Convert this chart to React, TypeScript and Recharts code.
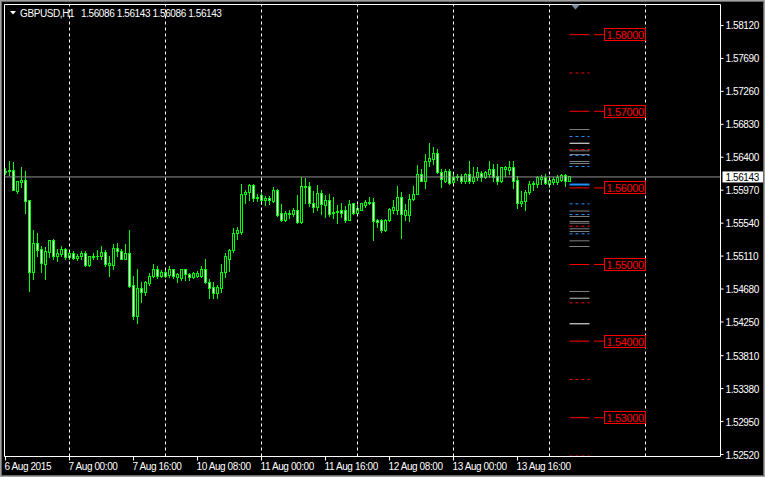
import React from 'react';
import { ComposedChart, Bar, XAxis, YAxis, ReferenceLine } from 'recharts';

// GBPUSD H1, 6 Aug 08:00 .. 14 Aug 04:00 (2015)
const OPEN = [
  1.5620, 1.5622, 1.5623, 1.5595, 1.5607, 1.5610, 1.5583, 1.5490, 1.5527, 1.5519,
  1.5500, 1.5516, 1.5531, 1.5510, 1.5513, 1.5520, 1.5509, 1.5514, 1.5508, 1.5510,
  1.5515, 1.5499, 1.5509, 1.5511, 1.5511, 1.5516, 1.5499, 1.5499, 1.5521, 1.5517,
  1.5507, 1.5514, 1.5472, 1.5432, 1.5469, 1.5463, 1.5475, 1.5484, 1.5493, 1.5484,
  1.5489, 1.5486, 1.5493, 1.5483, 1.5482, 1.5493, 1.5487, 1.5483, 1.5485, 1.5485,
  1.5494, 1.5476, 1.5470, 1.5462, 1.5469, 1.5490, 1.5507, 1.5518, 1.5541, 1.5542,
  1.5592, 1.5594, 1.5603, 1.5586, 1.5590, 1.5583, 1.5586, 1.5582, 1.5597, 1.5566,
  1.5558, 1.5566, 1.5565, 1.5571, 1.5555, 1.5602, 1.5602, 1.5580, 1.5574, 1.5593,
  1.5577, 1.5583, 1.5566, 1.5568, 1.5570, 1.5570, 1.5558, 1.5579, 1.5567, 1.5571,
  1.5577, 1.5579, 1.5581, 1.5557, 1.5557, 1.5544, 1.5557, 1.5571, 1.5571, 1.5588,
  1.5564, 1.5564, 1.5585, 1.5592, 1.5618, 1.5609, 1.5635, 1.5637, 1.5645, 1.5620,
  1.5609, 1.5622, 1.5607, 1.5613, 1.5615, 1.5609, 1.5617, 1.5608, 1.5613, 1.5619,
  1.5613, 1.5617, 1.5624, 1.5615, 1.5608, 1.5624, 1.5623, 1.5627, 1.5610, 1.5579,
  1.5582, 1.5594, 1.5604, 1.5604, 1.5611, 1.5613, 1.5605, 1.5607, 1.5607, 1.5610,
  1.5616, 1.56086,
];
const HIGH = [
  1.5625, 1.5635, 1.5633, 1.5608, 1.5626, 1.5622, 1.5584, 1.5544, 1.5540, 1.5523,
  1.5522, 1.5531, 1.5532, 1.5519, 1.5523, 1.5521, 1.5517, 1.5517, 1.5513, 1.5517,
  1.5517, 1.5511, 1.5514, 1.5518, 1.5523, 1.5518, 1.5510, 1.5526, 1.5528, 1.5520,
  1.5526, 1.5544, 1.5484, 1.5493, 1.5476, 1.5478, 1.5488, 1.5500, 1.5497, 1.5492,
  1.5492, 1.5497, 1.5494, 1.5488, 1.5494, 1.5494, 1.5488, 1.5490, 1.5491, 1.5497,
  1.5506, 1.5480, 1.5477, 1.5473, 1.5500, 1.5514, 1.5520, 1.5547, 1.5548, 1.5604,
  1.5596, 1.5604, 1.5604, 1.5591, 1.5593, 1.5589, 1.5589, 1.5600, 1.5598, 1.5578,
  1.5569, 1.5571, 1.5573, 1.5590, 1.5613, 1.5612, 1.5607, 1.5595, 1.5603, 1.5596,
  1.5590, 1.5592, 1.5587, 1.5577, 1.5580, 1.5576, 1.5584, 1.5580, 1.5577, 1.5580,
  1.5584, 1.5587, 1.5586, 1.5559, 1.5559, 1.5559, 1.5573, 1.5583, 1.5602, 1.5594,
  1.5578, 1.5591, 1.5602, 1.5629, 1.5624, 1.5643, 1.5658, 1.5653, 1.5650, 1.5624,
  1.5624, 1.5624, 1.5619, 1.5617, 1.5618, 1.5619, 1.5634, 1.5626, 1.5626, 1.5621,
  1.5622, 1.5634, 1.5631, 1.5630, 1.5627, 1.5628, 1.5634, 1.5634, 1.5615, 1.5595,
  1.5597, 1.5608, 1.5608, 1.5615, 1.5616, 1.5617, 1.5615, 1.5614, 1.5616, 1.5618,
  1.5618, 1.56143,
];
const LOW = [
  1.5617, 1.5616, 1.5596, 1.5593, 1.5600, 1.5567, 1.5465, 1.5480, 1.5511, 1.5490,
  1.5481, 1.5509, 1.5506, 1.5504, 1.5510, 1.5507, 1.5506, 1.5506, 1.5505, 1.5506,
  1.5497, 1.5497, 1.5506, 1.5506, 1.5506, 1.5497, 1.5485, 1.5493, 1.5511, 1.5506,
  1.5506, 1.5470, 1.5428, 1.5423, 1.5450, 1.5460, 1.5472, 1.5483, 1.5482, 1.5483,
  1.5483, 1.5483, 1.5482, 1.5476, 1.5479, 1.5479, 1.5479, 1.5482, 1.5483, 1.5483,
  1.5475, 1.5456, 1.5456, 1.5455, 1.5463, 1.5483, 1.5491, 1.5516, 1.5533, 1.5539,
  1.5579, 1.5584, 1.5582, 1.5582, 1.5578, 1.5577, 1.5578, 1.5581, 1.5563, 1.5556,
  1.5556, 1.5560, 1.5563, 1.5553, 1.5554, 1.5580, 1.5576, 1.5568, 1.5571, 1.5565,
  1.5561, 1.5563, 1.5560, 1.5553, 1.5561, 1.5555, 1.5557, 1.5565, 1.5565, 1.5570,
  1.5574, 1.5578, 1.5531, 1.5548, 1.5542, 1.5543, 1.5556, 1.5566, 1.5565, 1.5534,
  1.5558, 1.5556, 1.5584, 1.5591, 1.5608, 1.5599, 1.5628, 1.5631, 1.5619, 1.5600,
  1.5607, 1.5605, 1.5604, 1.5610, 1.5606, 1.5606, 1.5606, 1.5606, 1.5610, 1.5609,
  1.5612, 1.5613, 1.5608, 1.5604, 1.5607, 1.5615, 1.5617, 1.5599, 1.5573, 1.5576,
  1.5570, 1.5591, 1.5597, 1.5600, 1.5604, 1.5604, 1.5600, 1.5605, 1.5604, 1.5609,
  1.5602, 1.56086,
];
const CLOSE = [
  1.5622, 1.5623, 1.5597, 1.5608, 1.5610, 1.5582, 1.5490, 1.5527, 1.5518, 1.5501,
  1.5517, 1.5531, 1.5510, 1.5514, 1.5519, 1.5509, 1.5514, 1.5508, 1.5511, 1.5515,
  1.5499, 1.5510, 1.5511, 1.5510, 1.5516, 1.5500, 1.5501, 1.5521, 1.5517, 1.5507,
  1.5515, 1.5471, 1.5432, 1.5469, 1.5463, 1.5476, 1.5485, 1.5493, 1.5484, 1.5489,
  1.5484, 1.5493, 1.5484, 1.5487, 1.5493, 1.5487, 1.5483, 1.5488, 1.5488, 1.5494,
  1.5476, 1.5469, 1.5462, 1.5470, 1.5490, 1.5510, 1.5518, 1.5541, 1.5544, 1.5592,
  1.5594, 1.5603, 1.5586, 1.5588, 1.5583, 1.5586, 1.5584, 1.5597, 1.5564, 1.5558,
  1.5566, 1.5565, 1.5571, 1.5555, 1.5602, 1.5601, 1.5579, 1.5574, 1.5593, 1.5578,
  1.5583, 1.5565, 1.5568, 1.5569, 1.5567, 1.5557, 1.5578, 1.5566, 1.5573, 1.5579,
  1.5581, 1.5581, 1.5556, 1.5555, 1.5544, 1.5558, 1.5572, 1.5574, 1.5588, 1.5565,
  1.5570, 1.5585, 1.5592, 1.5618, 1.5609, 1.5635, 1.5639, 1.5645, 1.5620, 1.5611,
  1.5622, 1.5606, 1.5613, 1.5615, 1.5608, 1.5617, 1.5608, 1.5614, 1.5620, 1.5613,
  1.5620, 1.5624, 1.5613, 1.5608, 1.5626, 1.5626, 1.5627, 1.5609, 1.5580, 1.5582,
  1.5594, 1.5605, 1.5606, 1.5613, 1.5613, 1.5606, 1.5610, 1.5611, 1.5613, 1.5616,
  1.5608, 1.56143,
];

const TIME_TICKS = [0, 16, 32, 48, 64, 80, 96, 112, 128];
const TIME_LABELS = [
  '6 Aug 2015', '7 Aug 00:00', '7 Aug 16:00', '10 Aug 08:00', '11 Aug 00:00',
  '11 Aug 16:00', '12 Aug 08:00', '13 Aug 00:00', '13 Aug 16:00',
];
const DAY_BREAKS = [16, 40, 64, 88, 112, 136, 160];
const PRICE_TICKS = [
  1.5812, 1.5769, 1.5726, 1.5683, 1.564, 1.5597, 1.5554,
  1.5511, 1.5468, 1.5425, 1.5381, 1.5338, 1.5295, 1.5252,
];

// levels drawn on the right, over bars LEVEL_FROM..LEVEL_TO
const ROUND_LEVELS = [1.58, 1.57, 1.56, 1.55, 1.54, 1.53];
const HALF_LEVELS = [1.575, 1.565, 1.555, 1.545, 1.535, 1.525];
const GRAY_LEVELS = [
  1.56762, 1.56484, 1.56436, 1.56345, 1.56319, 1.55698, 1.55627,
  1.55561, 1.55539, 1.55466, 1.55431, 1.55309, 1.55235, 1.54648,
];
const BLUE_LEVELS = [1.56671, 1.56423, 1.56279, 1.55792, 1.55653, 1.55401];
const WHITE_LEVELS = [1.56583, 1.54226];
const SILVER_LEVELS = [1.5456];
const BLUE_THICK_LEVELS = [1.56044];
const LEVEL_FROM = 141;
const LEVEL_TO = 146;
const TAG_FROM = 147.125;
const TAG_TO = 149.625;

const LIME = '#00ff00';
const FONT = '"Liberation Sans", Arial, sans-serif';
const TXT = { fontSize: 10, letterSpacing: -0.4, fontFamily: FONT };

const candles = OPEN.map((o, i) => ({
  i,
  open: o,
  high: HIGH[i],
  low: LOW[i],
  close: CLOSE[i],
  range: [LOW[i], HIGH[i]],
}));
const last = candles[candles.length - 1];

const snap = (v: number) => Math.round(v - 0.5) + 0.5;

function Candle(props: any) {
  const { x, y, width, height, payload } = props;
  if (x == null || y == null) return null;
  const cx = snap(x + width / 2);
  const span = payload.high - payload.low;
  const toY = (p: number) => (span > 0 ? y + ((payload.high - p) / span) * height : y);
  const top = snap(toY(Math.max(payload.open, payload.close)));
  const bot = snap(toY(Math.min(payload.open, payload.close)));
  const bull = payload.close >= payload.open;
  return (
    <g>
      <line x1={cx} x2={cx} y1={snap(y)} y2={snap(y + height)} stroke={LIME} strokeLinecap="square" />
      {bot - top < 1 ? (
        <line x1={cx - 1.5} x2={cx + 1.5} y1={top} y2={top} stroke={LIME} />
      ) : (
        <rect x={cx - 1} y={top} width={2} height={bot - top} fill={bull ? '#000' : '#fff'} stroke={LIME} />
      )}
    </g>
  );
}

const TimeTick = (props: any) => {
  const { x, y, payload } = props;
  const idx = TIME_TICKS.indexOf(payload.value);
  return (
    <text x={x - 1} y={y + 7.5} fill="#fff" {...TXT} textAnchor="start">
      {TIME_LABELS[idx]}
    </text>
  );
};

const PriceTick = (props: any) => {
  const { x, y, payload } = props;
  return (
    <text x={x} y={y + 4} fill="#fff" {...TXT} textAnchor="start">
      {payload.value.toFixed(5)}
    </text>
  );
};

const LevelTag = (props: any) => {
  const { viewBox, text } = props;
  if (!viewBox) return null;
  const left = snap(viewBox.x + viewBox.width);
  const cy = snap(viewBox.y);
  return (
    <g>
      <rect x={left} y={cy - 6} width={41} height={12} fill="#000" stroke="#ff0000" />
      <text x={left + 2} y={cy + 4.5} fill="#ff0000" fontSize={11} letterSpacing={-0.35} fontFamily={FONT}>
        {text}
      </text>
    </g>
  );
};

const PriceTag = (props: any) => {
  const { viewBox } = props;
  if (!viewBox) return null;
  const left = viewBox.x + viewBox.width + 2;
  const cy = viewBox.y;
  return (
    <g>
      <rect x={left} y={cy - 5.5} width={41} height={11} fill="#fff" />
      <text x={left + 3} y={cy + 4} fill="#000" {...TXT}>
        {last.close.toFixed(5)}
      </text>
    </g>
  );
};

const levelLine = (p: number, key: string, stroke: string, dash?: string, width = 1) => (
  <ReferenceLine
    key={key + p}
    segment={[{ x: LEVEL_FROM, y: p }, { x: LEVEL_TO, y: p }]}
    stroke={stroke}
    strokeWidth={width}
    strokeDasharray={dash}
    ifOverflow="visible"
  />
);

export default function App() {
  return (
    <div style={{ position: 'absolute', left: 0, top: 0, width: 765, height: 477, background: '#000', overflow: 'hidden' }}>
      <ComposedChart
        width={765}
        height={477}
        data={candles}
        margin={{ top: 4.5, right: 0, bottom: 0, left: 4.5 }}
      >
        <XAxis
          dataKey="i"
          type="number"
          domain={[-0.25, 178.75]}
          allowDataOverflow
          ticks={TIME_TICKS}
          interval={0}
          height={20.5}
          stroke="#fff"
          tickSize={4}
          tick={<TimeTick />}
        />
        <YAxis
          orientation="right"
          type="number"
          domain={[1.52494, 1.58394]}
          allowDataOverflow
          ticks={PRICE_TICKS}
          interval={0}
          width={44.5}
          stroke="#fff"
          tickSize={3}
          tick={<PriceTick />}
        />
        <ReferenceLine y={1.58394} stroke="#fff" ifOverflow="visible" />
        <ReferenceLine x={-0.25} stroke="#fff" ifOverflow="visible" />
        {DAY_BREAKS.map((d) => (
          <ReferenceLine key={'d' + d} x={d} stroke="#fff" strokeDasharray="3 3" ifOverflow="visible" />
        ))}
        <ReferenceLine y={last.close} stroke="#909090" ifOverflow="visible" label={(p: any) => <PriceTag {...p} />} />
        {GRAY_LEVELS.map((p) => levelLine(p, 'g', '#808080'))}
        {SILVER_LEVELS.map((p) => levelLine(p, 's', '#c0c0c0'))}
        {WHITE_LEVELS.map((p) => levelLine(p, 'w', '#ffffff'))}
        {BLUE_LEVELS.map((p) => levelLine(p, 'b', '#1e90ff', '3 3'))}
        {BLUE_THICK_LEVELS.map((p) => levelLine(p, 'bt', '#1e90ff', undefined, 2))}
        {HALF_LEVELS.map((p) => levelLine(p, 'h', '#ff0000', '3 3'))}
        {ROUND_LEVELS.map((p) => levelLine(p, 'r', '#ff0000'))}
        {ROUND_LEVELS.map((p) => (
          <ReferenceLine
            key={'t' + p}
            segment={[{ x: TAG_FROM, y: p }, { x: TAG_TO, y: p }]}
            stroke="#ff0000"
            ifOverflow="visible"
            label={(lp: any) => <LevelTag {...lp} text={p.toFixed(5)} />}
          />
        ))}
        <Bar dataKey="range" barSize={2} shape={<Candle />} isAnimationActive={false} />
      </ComposedChart>
      <div style={{ position: 'absolute', left: 0, top: 0, width: 765, height: 477, pointerEvents: 'none' }}>
        <svg width={765} height={477} style={{ position: 'absolute', left: 0, top: 0 }}>
          <polygon points="10,11 16,11 13,14.5" fill="#fff" />
          <polygon points="571,4.5 580,4.5 575.5,9.5" fill="#778899" />
          <text x={20} y={17} fill="#fff" {...TXT}>GBPUSD,H1</text>
          <text x={81} y={17} fill="#fff" {...TXT}>
            {[last.open, last.high, last.low, last.close].map((v) => v.toFixed(5)).join(' ')}
          </text>
          <rect x={0.5} y={0.5} width={764} height={476} fill="none" stroke="#a0a0a0" />
          <rect x={1.5} y={1.5} width={762} height={474} fill="none" stroke="#696969" />
        </svg>
      </div>
    </div>
  );
}
